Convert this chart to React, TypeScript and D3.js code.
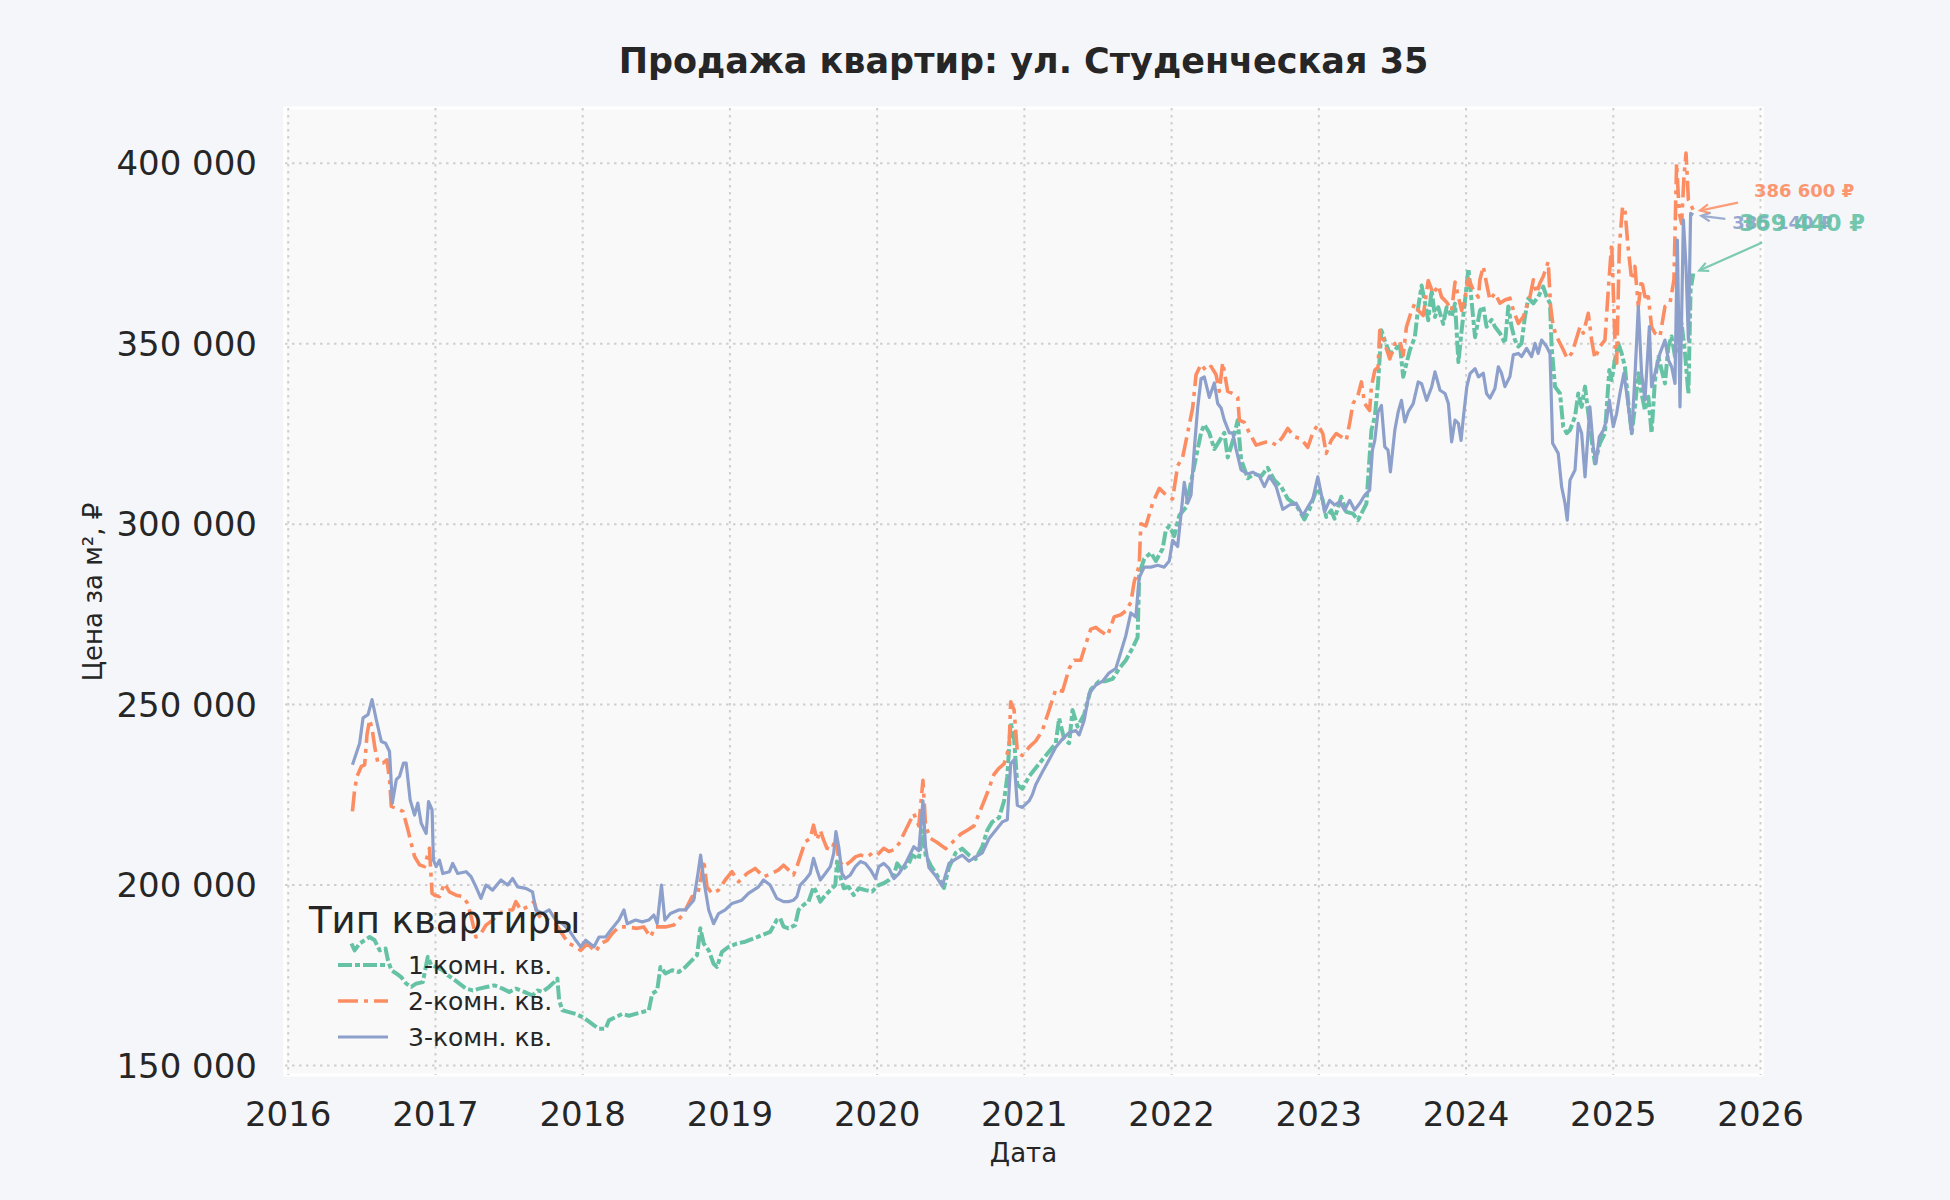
import React, { useEffect, useRef } from "react";
import * as d3 from "d3";

type Pt = [number, number]; // [decimal year, price per m²]

// 1-комн. кв.
const oneRoom: Pt[] = [
  [2016.429, 183800], [2016.451, 181900], [2016.485, 183800], [2016.519, 184700], [2016.553, 185600],
  [2016.587, 184700], [2016.621, 181900], [2016.661, 182400], [2016.677, 179200], [2016.700, 176400],
  [2016.734, 175500], [2016.767, 174500], [2016.801, 172700], [2016.835, 171800], [2016.869, 172700],
  [2016.914, 173100], [2016.948, 180100], [2016.971, 177800], [2017.005, 177300], [2017.050, 176400],
  [2017.084, 175000], [2017.117, 174100], [2017.163, 172700], [2017.208, 171300], [2017.253, 170800],
  [2017.298, 171300], [2017.354, 171800], [2017.400, 172200], [2017.456, 171300], [2017.501, 170400],
  [2017.546, 171300], [2017.603, 170400], [2017.659, 169400], [2017.693, 170800], [2017.727, 170400],
  [2017.772, 171800], [2017.806, 173100], [2017.828, 174100], [2017.840, 168100], [2017.862, 165300],
  [2017.907, 164800], [2017.953, 164300], [2017.998, 163400], [2018.032, 162500], [2018.077, 161100],
  [2018.111, 160200], [2018.156, 160200], [2018.178, 162500], [2018.223, 163400], [2018.269, 164300],
  [2018.314, 163800], [2018.359, 164300], [2018.404, 164800], [2018.449, 165300], [2018.472, 169900],
  [2018.506, 170800], [2018.528, 177300], [2018.562, 175500], [2018.607, 176400], [2018.652, 175900],
  [2018.698, 177300], [2018.743, 179200], [2018.777, 180600], [2018.799, 188000], [2018.822, 183800],
  [2018.856, 181900], [2018.889, 178200], [2018.912, 177300], [2018.946, 181500], [2018.991, 182900],
  [2019.047, 183800], [2019.104, 184300], [2019.160, 185200], [2019.217, 186100], [2019.273, 187000],
  [2019.318, 190300], [2019.341, 190800], [2019.364, 188500], [2019.398, 188000], [2019.443, 188900],
  [2019.466, 193100], [2019.500, 194500], [2019.534, 195400], [2019.568, 199500], [2019.591, 197700],
  [2019.614, 195400], [2019.648, 197200], [2019.682, 198600], [2019.716, 200000], [2019.727, 206500],
  [2019.750, 202300], [2019.773, 199100], [2019.807, 199500], [2019.841, 197200], [2019.875, 199100],
  [2019.920, 198600], [2019.966, 198200], [2020.011, 200000], [2020.045, 200500], [2020.080, 201400],
  [2020.114, 202800], [2020.136, 206000], [2020.170, 204200], [2020.216, 206000], [2020.238, 208300],
  [2020.283, 207200], [2020.311, 215200], [2020.329, 208300], [2020.363, 205500], [2020.408, 202600],
  [2020.454, 199200], [2020.488, 204900], [2020.533, 208900], [2020.578, 210100], [2020.624, 208300],
  [2020.669, 207200], [2020.714, 210600], [2020.748, 215200], [2020.782, 217500], [2020.828, 218700],
  [2020.862, 223300], [2020.884, 230100], [2020.907, 245100], [2020.930, 240500], [2020.952, 227800],
  [2020.986, 226700], [2021.032, 230100], [2021.077, 232400], [2021.122, 234700], [2021.168, 237000],
  [2021.213, 239300], [2021.236, 246200], [2021.270, 240500], [2021.304, 239300], [2021.327, 248500],
  [2021.361, 243900], [2021.406, 247300], [2021.451, 254200], [2021.508, 256500], [2021.553, 256500],
  [2021.599, 257100], [2021.644, 260000], [2021.689, 262300], [2021.735, 265700], [2021.769, 268600],
  [2021.780, 286300], [2021.814, 290400], [2021.859, 292100], [2021.893, 289800], [2021.939, 293200],
  [2021.961, 298400], [2021.984, 299500], [2022.018, 296700], [2022.052, 302400], [2022.098, 304700],
  [2022.120, 309300], [2022.143, 313900], [2022.177, 320800], [2022.200, 325300], [2022.222, 327600],
  [2022.256, 325300], [2022.290, 320800], [2022.324, 323000], [2022.358, 325300], [2022.381, 318500],
  [2022.415, 323000], [2022.449, 328800], [2022.472, 317900], [2022.517, 312700], [2022.562, 313900],
  [2022.608, 313300], [2022.653, 315600], [2022.698, 312200], [2022.744, 310400], [2022.789, 307000],
  [2022.846, 305300], [2022.902, 301300], [2022.937, 304100], [2022.982, 309300], [2022.993, 309900],
  [2023.027, 306600], [2023.050, 302000], [2023.084, 303800], [2023.107, 301500], [2023.152, 307600],
  [2023.186, 303400], [2023.232, 302900], [2023.266, 301100], [2023.300, 303800], [2023.323, 305700],
  [2023.357, 326000], [2023.380, 329700], [2023.402, 338900], [2023.425, 353700], [2023.448, 350900],
  [2023.482, 347200], [2023.516, 348100], [2023.550, 350000], [2023.573, 340800], [2023.595, 344500],
  [2023.618, 348200], [2023.652, 351800], [2023.675, 360100], [2023.698, 366100], [2023.720, 361500],
  [2023.743, 356500], [2023.766, 364800], [2023.789, 357400], [2023.811, 360100], [2023.845, 355500],
  [2023.868, 360100], [2023.902, 357400], [2023.925, 361100], [2023.948, 344900], [2023.970, 353700],
  [2023.993, 362000], [2024.016, 370800], [2024.039, 361100], [2024.061, 351800], [2024.095, 359200],
  [2024.117, 360300], [2024.139, 354700], [2024.173, 356600], [2024.196, 354700], [2024.230, 352900],
  [2024.264, 350100], [2024.287, 360300], [2024.309, 354700], [2024.332, 351000], [2024.355, 349200],
  [2024.377, 350100], [2024.400, 357500], [2024.423, 362600], [2024.457, 361200], [2024.490, 363000],
  [2024.524, 365800], [2024.547, 363000], [2024.570, 361200], [2024.581, 349200], [2024.604, 338100],
  [2024.638, 336200], [2024.660, 327000], [2024.683, 325200], [2024.706, 326100], [2024.740, 329800],
  [2024.762, 336200], [2024.785, 332500], [2024.808, 338100], [2024.830, 330700], [2024.853, 323300],
  [2024.875, 316800], [2024.909, 322400], [2024.943, 325200], [2024.973, 342700], [2024.989, 339900],
  [2025.011, 345500], [2025.034, 350100], [2025.057, 347300], [2025.079, 343600], [2025.102, 333500],
  [2025.125, 325200], [2025.147, 332500], [2025.170, 341800], [2025.192, 336200], [2025.215, 331600],
  [2025.238, 335300], [2025.260, 325200], [2025.283, 339900], [2025.306, 346400], [2025.328, 342700],
  [2025.351, 339000], [2025.374, 349200], [2025.396, 352000], [2025.419, 346400], [2025.442, 351000],
  [2025.464, 355600], [2025.487, 347300], [2025.510, 336200], [2025.525, 364900], [2025.543, 369440],
];

// 2-комн. кв.
const twoRoom: Pt[] = [
  [2016.436, 220400], [2016.451, 226400], [2016.467, 230100], [2016.497, 232900], [2016.519, 233300],
  [2016.535, 241700], [2016.553, 245800], [2016.571, 243000], [2016.587, 238400], [2016.609, 233800],
  [2016.643, 233800], [2016.670, 234700], [2016.688, 229200], [2016.700, 221800], [2016.734, 221300],
  [2016.779, 220400], [2016.813, 215300], [2016.835, 211600], [2016.858, 207900], [2016.892, 205600],
  [2016.925, 205100], [2016.959, 210200], [2016.977, 197700], [2016.993, 197200], [2017.027, 196800],
  [2017.061, 200500], [2017.095, 198100], [2017.140, 197200], [2017.185, 196800], [2017.219, 194900],
  [2017.248, 190300], [2017.275, 185600], [2017.309, 186600], [2017.343, 188900], [2017.388, 190300],
  [2017.433, 192100], [2017.479, 193100], [2017.524, 193100], [2017.546, 195400], [2017.580, 193100],
  [2017.625, 194000], [2017.670, 195400], [2017.693, 192100], [2017.727, 190300], [2017.772, 190300],
  [2017.817, 189300], [2017.874, 185600], [2017.907, 183800], [2017.953, 182900], [2017.986, 181900],
  [2018.032, 183800], [2018.088, 181500], [2018.122, 183800], [2018.167, 184700], [2018.201, 186600],
  [2018.246, 188400], [2018.302, 188400], [2018.370, 188000], [2018.415, 188400], [2018.460, 185600],
  [2018.494, 188400], [2018.562, 188400], [2018.619, 188900], [2018.686, 192100], [2018.743, 196800],
  [2018.777, 196800], [2018.806, 202300], [2018.822, 206900], [2018.844, 199500], [2018.878, 197700],
  [2018.923, 198600], [2018.968, 201400], [2019.014, 203700], [2019.059, 200900], [2019.115, 203200],
  [2019.172, 204600], [2019.228, 202300], [2019.284, 203200], [2019.330, 204200], [2019.364, 205500],
  [2019.398, 204200], [2019.432, 202800], [2019.455, 205100], [2019.477, 207800], [2019.511, 212000],
  [2019.545, 212900], [2019.568, 216600], [2019.591, 212500], [2019.614, 215200], [2019.636, 212500],
  [2019.659, 210200], [2019.693, 209800], [2019.720, 213400], [2019.739, 206900], [2019.773, 205100],
  [2019.818, 206500], [2019.852, 207800], [2019.886, 208300], [2019.932, 207800], [2019.966, 208800],
  [2020.000, 208300], [2020.045, 210200], [2020.080, 209300], [2020.114, 209800], [2020.148, 211500],
  [2020.193, 215200], [2020.249, 219800], [2020.283, 216400], [2020.311, 229000], [2020.329, 216400],
  [2020.363, 212900], [2020.408, 211800], [2020.465, 210100], [2020.510, 211800], [2020.567, 214100],
  [2020.612, 215200], [2020.658, 216400], [2020.703, 220900], [2020.748, 225500], [2020.794, 230700],
  [2020.828, 232400], [2020.862, 233600], [2020.896, 238200], [2020.907, 250800], [2020.930, 248500],
  [2020.952, 237000], [2020.986, 235900], [2021.032, 238200], [2021.077, 239900], [2021.122, 242800],
  [2021.168, 248500], [2021.213, 254200], [2021.259, 253700], [2021.304, 260000], [2021.338, 262300],
  [2021.383, 262300], [2021.417, 266800], [2021.451, 270900], [2021.485, 271400], [2021.519, 270300],
  [2021.565, 269100], [2021.610, 274300], [2021.655, 274900], [2021.689, 276000], [2021.723, 278300],
  [2021.746, 284000], [2021.780, 288600], [2021.791, 300100], [2021.825, 299500], [2021.871, 305800],
  [2021.916, 309900], [2021.961, 308100], [2022.007, 307000], [2022.041, 316200], [2022.075, 318500],
  [2022.109, 325300], [2022.143, 332200], [2022.166, 341400], [2022.200, 344300], [2022.234, 342500],
  [2022.268, 343700], [2022.302, 341400], [2022.324, 336800], [2022.347, 344800], [2022.381, 336800],
  [2022.415, 336200], [2022.449, 335100], [2022.460, 328800], [2022.494, 328200], [2022.528, 325300],
  [2022.574, 321900], [2022.619, 322500], [2022.664, 323000], [2022.710, 321900], [2022.755, 324200],
  [2022.789, 326500], [2022.834, 324200], [2022.880, 323600], [2022.925, 321300], [2022.959, 325300],
  [2022.993, 327600], [2023.027, 325100], [2023.050, 319600], [2023.084, 323200], [2023.118, 325100],
  [2023.152, 324200], [2023.186, 323200], [2023.209, 327900], [2023.232, 333400], [2023.266, 335700],
  [2023.289, 339400], [2023.311, 333400], [2023.345, 331500], [2023.357, 338000], [2023.380, 342600],
  [2023.402, 343500], [2023.414, 353700], [2023.436, 351800], [2023.459, 348600], [2023.482, 345800],
  [2023.516, 350000], [2023.550, 350900], [2023.573, 346800], [2023.595, 354600], [2023.630, 359200],
  [2023.652, 361100], [2023.675, 359200], [2023.709, 357800], [2023.743, 367500], [2023.777, 363800],
  [2023.811, 366100], [2023.834, 362900], [2023.868, 361500], [2023.902, 359200], [2023.925, 367100],
  [2023.948, 362900], [2023.970, 359200], [2023.993, 362900], [2024.016, 368000], [2024.050, 364800],
  [2024.084, 362900], [2024.094, 367700], [2024.117, 371400], [2024.139, 366700], [2024.162, 362100],
  [2024.196, 364000], [2024.230, 361200], [2024.264, 362100], [2024.298, 362600], [2024.321, 359300],
  [2024.355, 355600], [2024.389, 357500], [2024.411, 360300], [2024.434, 363000], [2024.457, 367700],
  [2024.479, 364000], [2024.502, 366800], [2024.524, 368600], [2024.547, 371400], [2024.558, 372700],
  [2024.574, 360300], [2024.592, 354700], [2024.615, 352000], [2024.638, 350100], [2024.660, 348300],
  [2024.687, 345900], [2024.717, 347300], [2024.740, 350100], [2024.774, 354700], [2024.796, 352900],
  [2024.830, 358400], [2024.853, 351000], [2024.875, 345900], [2024.909, 349200], [2024.943, 351000],
  [2024.966, 364900], [2024.989, 377800], [2025.011, 351000], [2025.023, 344600], [2025.041, 376900],
  [2025.063, 388000], [2025.079, 387100], [2025.102, 376000], [2025.125, 367700], [2025.147, 371400],
  [2025.170, 360300], [2025.192, 367700], [2025.215, 363000], [2025.238, 363000], [2025.260, 354700],
  [2025.283, 352900], [2025.317, 352000], [2025.351, 360300], [2025.385, 361200], [2025.412, 367700],
  [2025.430, 400000], [2025.448, 386100], [2025.464, 383300], [2025.480, 396300], [2025.494, 402800],
  [2025.510, 389800], [2025.532, 388000], [2025.548, 386600],
];

// 3-комн. кв.
const threeRoom: Pt[] = [
  [2016.436, 233300], [2016.485, 239300], [2016.508, 246300], [2016.542, 247200], [2016.569, 251400],
  [2016.598, 245800], [2016.632, 239800], [2016.661, 239300], [2016.688, 237000], [2016.707, 222700],
  [2016.734, 229200], [2016.756, 230100], [2016.783, 233800], [2016.801, 233800], [2016.828, 223600],
  [2016.858, 219400], [2016.880, 222700], [2016.903, 217100], [2016.937, 214300], [2016.953, 223100],
  [2016.977, 220800], [2016.986, 206900], [2017.005, 205100], [2017.027, 206900], [2017.050, 203200],
  [2017.095, 203700], [2017.117, 206000], [2017.151, 203200], [2017.208, 203700], [2017.242, 202300],
  [2017.275, 199500], [2017.309, 196300], [2017.343, 200000], [2017.388, 198600], [2017.445, 201400],
  [2017.490, 200000], [2017.524, 201800], [2017.558, 199500], [2017.614, 199100], [2017.659, 198100],
  [2017.682, 193100], [2017.727, 192100], [2017.772, 193100], [2017.817, 190300], [2017.862, 189300],
  [2017.907, 187500], [2017.953, 184700], [2017.986, 182900], [2018.020, 184700], [2018.077, 182900],
  [2018.111, 185600], [2018.156, 185600], [2018.190, 187500], [2018.246, 190300], [2018.280, 193100],
  [2018.302, 189300], [2018.359, 190300], [2018.404, 189800], [2018.449, 190300], [2018.483, 191700],
  [2018.506, 189300], [2018.535, 200000], [2018.558, 190300], [2018.596, 192100], [2018.652, 193100],
  [2018.698, 193100], [2018.754, 195800], [2018.783, 203200], [2018.801, 208300], [2018.822, 201400],
  [2018.856, 193100], [2018.889, 189300], [2018.923, 192100], [2018.968, 193100], [2019.014, 194900],
  [2019.081, 195800], [2019.126, 197700], [2019.194, 199500], [2019.228, 201400], [2019.273, 200000],
  [2019.318, 196300], [2019.364, 195400], [2019.398, 195400], [2019.432, 195800], [2019.455, 196800],
  [2019.477, 200000], [2019.511, 201400], [2019.545, 203200], [2019.568, 207400], [2019.591, 204200],
  [2019.614, 201400], [2019.648, 203200], [2019.682, 205100], [2019.705, 208800], [2019.720, 214800],
  [2019.739, 210600], [2019.761, 203200], [2019.784, 201800], [2019.818, 202800], [2019.852, 205100],
  [2019.886, 206500], [2019.920, 206000], [2019.955, 204200], [2019.989, 201800], [2020.011, 205100],
  [2020.045, 206000], [2020.080, 204600], [2020.114, 201800], [2020.148, 203200], [2020.193, 206000],
  [2020.249, 210600], [2020.283, 209500], [2020.311, 223300], [2020.329, 210600], [2020.351, 204900],
  [2020.397, 202600], [2020.442, 199700], [2020.488, 206000], [2020.533, 207200], [2020.578, 208300],
  [2020.624, 206600], [2020.669, 207800], [2020.714, 208900], [2020.760, 212900], [2020.805, 215200],
  [2020.850, 217500], [2020.884, 218100], [2020.907, 233600], [2020.930, 234700], [2020.952, 222100],
  [2020.986, 221500], [2021.032, 223300], [2021.054, 225000], [2021.077, 227800], [2021.122, 231300],
  [2021.168, 234700], [2021.213, 238200], [2021.259, 240500], [2021.304, 242200], [2021.349, 242800],
  [2021.372, 241600], [2021.406, 245600], [2021.440, 253100], [2021.485, 255400], [2021.531, 256500],
  [2021.576, 258800], [2021.621, 260000], [2021.655, 264500], [2021.689, 269100], [2021.723, 275400],
  [2021.757, 274300], [2021.780, 285200], [2021.814, 288100], [2021.859, 288100], [2021.905, 288600],
  [2021.950, 288100], [2021.984, 289800], [2022.007, 295500], [2022.041, 293800], [2022.063, 302400],
  [2022.086, 311600], [2022.109, 305800], [2022.132, 308100], [2022.154, 320800], [2022.177, 332200],
  [2022.200, 340300], [2022.222, 340800], [2022.256, 335100], [2022.290, 339100], [2022.313, 333400],
  [2022.336, 332200], [2022.358, 328800], [2022.392, 325300], [2022.415, 325300], [2022.438, 320800],
  [2022.472, 315000], [2022.517, 313900], [2022.551, 314400], [2022.596, 313300], [2022.630, 310400],
  [2022.664, 313300], [2022.710, 310400], [2022.755, 304100], [2022.800, 305300], [2022.846, 305800],
  [2022.891, 302400], [2022.925, 304700], [2022.959, 307000], [2022.993, 313100], [2023.016, 308500],
  [2023.039, 303400], [2023.073, 306600], [2023.107, 305300], [2023.141, 306200], [2023.175, 303900],
  [2023.209, 306600], [2023.243, 303900], [2023.277, 305700], [2023.311, 308000], [2023.345, 309400],
  [2023.364, 320500], [2023.380, 323200], [2023.402, 331100], [2023.425, 332900], [2023.448, 321400],
  [2023.470, 320500], [2023.486, 314500], [2023.516, 326000], [2023.539, 331100], [2023.561, 334300],
  [2023.584, 328300], [2023.607, 331100], [2023.641, 333400], [2023.675, 339400], [2023.698, 338900],
  [2023.732, 334300], [2023.766, 338000], [2023.789, 342200], [2023.823, 337100], [2023.857, 336200],
  [2023.880, 333400], [2023.902, 322800], [2023.925, 328800], [2023.948, 327900], [2023.966, 323200],
  [2023.982, 329700], [2024.005, 338000], [2024.027, 341700], [2024.061, 343100], [2024.084, 340800],
  [2024.117, 341800], [2024.139, 336200], [2024.162, 334900], [2024.196, 337600], [2024.219, 343600],
  [2024.241, 341800], [2024.264, 338100], [2024.298, 340900], [2024.321, 346900], [2024.355, 347300],
  [2024.377, 346400], [2024.411, 348700], [2024.445, 346400], [2024.468, 350100], [2024.490, 347300],
  [2024.513, 351000], [2024.547, 349200], [2024.570, 347300], [2024.588, 322400], [2024.626, 319600],
  [2024.649, 310400], [2024.672, 305800], [2024.687, 301100], [2024.706, 312200], [2024.740, 315000],
  [2024.762, 327900], [2024.785, 325200], [2024.808, 313100], [2024.841, 332500], [2024.864, 321400],
  [2024.882, 316800], [2024.905, 324200], [2024.932, 326000], [2024.955, 328900], [2024.973, 334400],
  [2025.000, 327000], [2025.023, 330700], [2025.045, 336200], [2025.072, 341800], [2025.091, 336200],
  [2025.125, 325200], [2025.147, 340900], [2025.170, 360300], [2025.192, 341800], [2025.215, 334400],
  [2025.245, 354700], [2025.260, 338100], [2025.283, 341800], [2025.317, 347300], [2025.351, 351000],
  [2025.374, 345500], [2025.396, 343600], [2025.419, 339000], [2025.435, 378700], [2025.453, 332500],
  [2025.476, 384300], [2025.494, 371400], [2025.510, 351000], [2025.525, 386100], [2025.543, 385700],
];

const seriesNames = ["1-комн. кв.", "2-комн. кв.", "3-комн. кв."];
const lastPriceLabels = ["369 440 ₽", "386 600 ₽", "385 140 ₽"];
const yearTicks = [2016, 2017, 2018, 2019, 2020, 2021, 2022, 2023, 2024, 2025, 2026];
const priceTicks = [150000, 200000, 250000, 300000, 350000, 400000];

const W = 1950;
const H = 1200;
const FONT = "'DejaVu Sans', 'Noto Sans', sans-serif";

const Chart: React.FC = () => {
  const ref = useRef<SVGSVGElement | null>(null);

  useEffect(() => {
    const margin = { left: 285, right: 1762, top: 108, bottom: 1075 };

    d3.select(ref.current).selectAll("*").remove();

    const svg = d3
      .select(ref.current)
      .attr("width", W)
      .attr("height", H)
      .style("font-family", FONT);

    svg.append("rect").attr("width", W).attr("height", H).attr("fill", "#f5f6fa");

    const x = d3.scaleLinear().domain([2015.978, 2026.01]).range([margin.left, margin.right]);
    const y = d3.scaleLinear().domain([147370, 415300]).range([margin.bottom, margin.top]);

    // axes face with white frame
    svg
      .append("rect")
      .attr("x", margin.left)
      .attr("y", margin.top)
      .attr("width", margin.right - margin.left)
      .attr("height", margin.bottom - margin.top)
      .attr("fill", "#f9f9f9")
      .attr("stroke", "#ffffff")
      .attr("stroke-width", 3);

    // dotted grid
    const grid = svg.append("g").attr("stroke", "#cfcfcf").attr("stroke-width", 2).attr("stroke-dasharray", "2.5,4.5");
    grid
      .selectAll("line.gx")
      .data(yearTicks)
      .join("line")
      .attr("x1", (d) => x(d))
      .attr("x2", (d) => x(d))
      .attr("y1", margin.top)
      .attr("y2", margin.bottom);
    grid
      .selectAll("line.gy")
      .data(priceTicks)
      .join("line")
      .attr("x1", margin.left)
      .attr("x2", margin.right)
      .attr("y1", (d) => y(d))
      .attr("y2", (d) => y(d));

    // tick labels
    const fmt = (v: number) => d3.format(",")(v).replace(/,/g, " ");
    svg
      .append("g")
      .selectAll("text")
      .data(priceTicks)
      .join("text")
      .attr("x", 257)
      .attr("y", (d) => y(d))
      .attr("dy", "0.36em")
      .attr("text-anchor", "end")
      .attr("font-size", 34)
      .attr("fill", "#262626")
      .text((d) => fmt(d));
    svg
      .append("g")
      .selectAll("text")
      .data(yearTicks)
      .join("text")
      .attr("x", (d) => x(d))
      .attr("y", 1126)
      .attr("text-anchor", "middle")
      .attr("font-size", 34)
      .attr("fill", "#262626")
      .text((d) => String(d));

    // axis labels + title
    svg
      .append("text")
      .attr("x", (margin.left + margin.right) / 2)
      .attr("y", 1162)
      .attr("text-anchor", "middle")
      .attr("font-size", 26)
      .attr("fill", "#262626")
      .text("Дата");
    svg
      .append("text")
      .attr("transform", `translate(102,592) rotate(-90)`)
      .attr("text-anchor", "middle")
      .attr("font-size", 26)
      .attr("fill", "#262626")
      .text("Цена за м², ₽");
    svg
      .append("text")
      .attr("x", (margin.left + margin.right) / 2)
      .attr("y", 73)
      .attr("text-anchor", "middle")
      .attr("font-size", 35)
      .attr("font-weight", "bold")
      .attr("fill", "#262626")
      .text("Продажа квартир: ул. Студенческая 35");

    // lines
    const series = [
      { data: oneRoom, color: "#66c2a5", dash: "14,3,5,3" as string | null, width: 4 },
      { data: twoRoom, color: "#fc8d62", dash: "20,6,4,6" as string | null, width: 3.6 },
      { data: threeRoom, color: "#8da0cb", dash: null as string | null, width: 3.2 },
    ];

    svg
      .append("clipPath")
      .attr("id", "plot-clip")
      .append("rect")
      .attr("x", margin.left)
      .attr("y", margin.top)
      .attr("width", margin.right - margin.left)
      .attr("height", margin.bottom - margin.top);

    const line = d3
      .line<Pt>()
      .x((d) => x(d[0]))
      .y((d) => y(d[1]));

    const lines = svg.append("g").attr("clip-path", "url(#plot-clip)");
    series.forEach((s) => {
      lines
        .append("path")
        .attr("d", line(s.data))
        .attr("fill", "none")
        .attr("stroke", s.color)
        .attr("stroke-width", s.width)
        .attr("stroke-linejoin", "round")
        .attr("stroke-dasharray", s.dash);
    });

    // end-value annotations
    const arrow = (x1: number, y1: number, x2: number, y2: number, color: string) => {
      const g = svg.append("g").attr("stroke", color).attr("stroke-width", 2.2).attr("fill", "none").attr("opacity", 0.85);
      g.append("line").attr("x1", x1).attr("y1", y1).attr("x2", x2).attr("y2", y2);
      const a = Math.atan2(y1 - y2, x1 - x2);
      const len = 10;
      const spread = 0.45;
      g.append("path").attr(
        "d",
        `M${x2 + len * Math.cos(a + spread)},${y2 + len * Math.sin(a + spread)}L${x2},${y2}L${
          x2 + len * Math.cos(a - spread)
        },${y2 + len * Math.sin(a - spread)}`
      );
    };

    const notes = [
      { i: 2, tip: [8, 1], from: [32, 4], text: [39, 14], size: 18 },
      { i: 1, tip: [6, -1], from: [44, -9], text: [60, -15], size: 18 },
      { i: 0, tip: [6, -3], from: [69, -31], text: [46, -43], size: 22.6 },
    ];
    notes.forEach((n) => {
      const s = series[n.i];
      const last = s.data[s.data.length - 1];
      const px = x(last[0]);
      const py = y(last[1]);
      arrow(px + n.from[0], py + n.from[1], px + n.tip[0], py + n.tip[1], s.color);
      svg
        .append("text")
        .attr("x", px + n.text[0])
        .attr("y", py + n.text[1])
        .attr("font-size", n.size)
        .attr("font-weight", "bold")
        .attr("fill", s.color)
        .attr("opacity", 0.9)
        .text(lastPriceLabels[n.i]);
    });

    // legend
    const legend = svg.append("g");
    legend
      .append("text")
      .attr("x", 309)
      .attr("y", 933)
      .attr("font-size", 37)
      .attr("fill", "#262626")
      .text("Тип квартиры");
    series.forEach((s, i) => {
      const ly = 965 + i * 36;
      legend
        .append("line")
        .attr("x1", 338)
        .attr("x2", 388)
        .attr("y1", ly)
        .attr("y2", ly)
        .attr("stroke", s.color)
        .attr("stroke-width", s.width)
        .attr("stroke-dasharray", s.dash);
      legend
        .append("text")
        .attr("x", 408)
        .attr("y", ly)
        .attr("dy", "0.36em")
        .attr("font-size", 25)
        .attr("fill", "#262626")
        .text(seriesNames[i]);
    });
  }, []);

  return <svg ref={ref} style={{ position: "absolute", left: 0, top: 0, display: "block" }}></svg>;
};

export default function App() {
  return <Chart />;
}
